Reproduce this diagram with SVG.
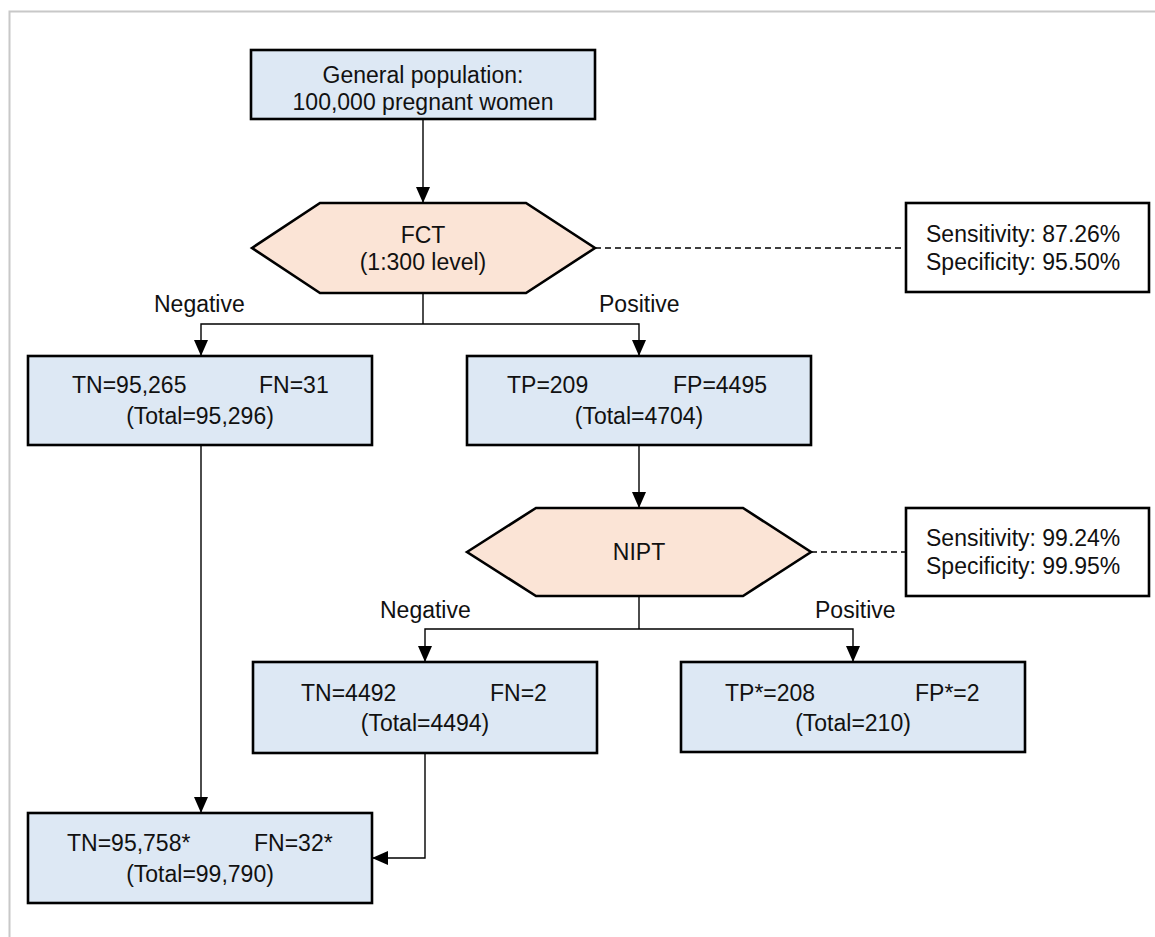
<svg xmlns="http://www.w3.org/2000/svg" width="1155" height="937" viewBox="0 0 1155 937">
<style>
text{font-family:"Liberation Sans",Arial,sans-serif;font-size:23px;fill:#111}
.c{text-anchor:middle}
.box{fill:#dde8f4;stroke:#000;stroke-width:2.6}
.hex{fill:#fbe4d6;stroke:#000;stroke-width:2.6}
.note{fill:#fff;stroke:#000;stroke-width:2.6}
.ln{fill:none;stroke:#000;stroke-width:1.4}
.ar{fill:none;stroke:#000;stroke-width:1.4;marker-end:url(#ah)}
.dash{fill:none;stroke:#000;stroke-width:1.4;stroke-dasharray:6,4}
</style>
<defs>
<marker id="ah" markerUnits="userSpaceOnUse" markerWidth="16" markerHeight="14" viewBox="0 0 16 14" refX="16" refY="7" orient="auto">
<path d="M0,0 L16,7 L0,14 Z" fill="#000"/>
</marker>
</defs>
<rect width="1155" height="937" fill="#fff"/>
<path d="M9.5,937 V11.5 H1155" fill="none" stroke="#c8c8c8" stroke-width="2"/>

<g id="connectors">
<path class="ar" d="M423,119 V203"/>
<path class="ln" d="M423,293 V324"/>
<path class="ar" d="M423,324 H201 V356"/>
<path class="ar" d="M423,324 H639 V356"/>
<path class="ar" d="M639,445 V508"/>
<path class="ln" d="M639,596 V629"/>
<path class="ar" d="M639,629 H425 V662"/>
<path class="ar" d="M639,629 H853 V662"/>
<path class="ar" d="M201,445 V813"/>
<path class="ar" d="M425,753 V858 H372"/>
<path class="dash" d="M595,248 H906"/>
<path class="dash" d="M811,552 H906"/>
<text x="154" y="312">Negative</text>
<text x="599" y="312">Positive</text>
<text x="380" y="618">Negative</text>
<text x="815" y="618">Positive</text>
</g>

<g id="population">
<rect class="box" x="251" y="50" width="344" height="69"/>
<text class="c" x="423" y="83">General population:</text>
<text class="c" x="423" y="110">100,000 pregnant women</text>
</g>

<g id="fct">
<polygon class="hex" points="252,248 320,203 526,203 595,248 526,293 320,293"/>
<text class="c" x="423" y="243">FCT</text>
<text class="c" x="423" y="270">(1:300 level)</text>
</g>

<g id="fct-stats">
<rect class="note" x="906" y="203" width="243" height="89"/>
<text x="926" y="242">Sensitivity: 87.26%</text>
<text x="926" y="270">Specificity: 95.50%</text>
</g>

<g id="fct-negative">
<rect class="box" x="28" y="356" width="344" height="89"/>
<text x="72" y="393">TN=95,265</text>
<text x="259" y="393">FN=31</text>
<text class="c" x="200" y="424">(Total=95,296)</text>
</g>

<g id="fct-positive">
<rect class="box" x="467" y="356" width="344" height="89"/>
<text x="507" y="393">TP=209</text>
<text x="673" y="393">FP=4495</text>
<text class="c" x="639" y="424">(Total=4704)</text>
</g>

<g id="nipt">
<polygon class="hex" points="467,552 536,508 743,508 811,552 743,596 536,596"/>
<text class="c" x="639" y="560">NIPT</text>
</g>

<g id="nipt-stats">
<rect class="note" x="906" y="508" width="243" height="88"/>
<text x="926" y="546">Sensitivity: 99.24%</text>
<text x="926" y="574">Specificity: 99.95%</text>
</g>

<g id="nipt-negative">
<rect class="box" x="253" y="662" width="344" height="91"/>
<text x="301" y="701">TN=4492</text>
<text x="490" y="701">FN=2</text>
<text class="c" x="425" y="731">(Total=4494)</text>
</g>

<g id="nipt-positive">
<rect class="box" x="681" y="662" width="344" height="90"/>
<text x="725" y="701">TP*=208</text>
<text x="915" y="701">FP*=2</text>
<text class="c" x="853" y="731">(Total=210)</text>
</g>

<g id="final-negative">
<rect class="box" x="28" y="813" width="344" height="90"/>
<text x="67" y="851">TN=95,758*</text>
<text x="254" y="851">FN=32*</text>
<text class="c" x="200" y="882">(Total=99,790)</text>
</g>
</svg>
